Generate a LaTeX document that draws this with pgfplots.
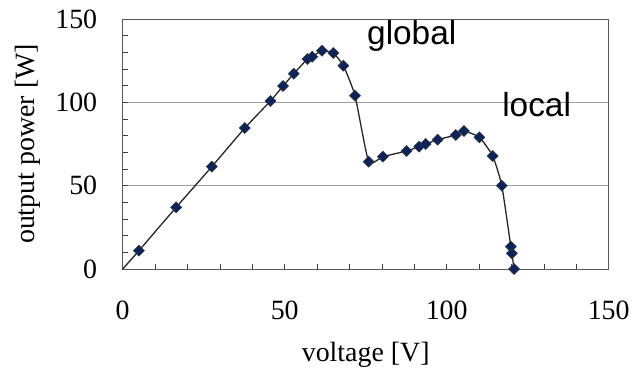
\documentclass[border=0pt]{standalone}
\usepackage{fontspec}
\setmainfont{Liberation Serif}
\newfontfamily\arial{Liberation Sans}
\usepackage{pgfplots}
\pgfplotsset{compat=1.18}
\definecolor{mk}{RGB}{12,36,92}
\pgfplotstableread{
x y
5.0 11.0
16.5 37.0
27.5 61.4
37.7 84.6
45.6 100.8
49.5 109.8
52.8 117.2
57.0 126.0
58.5 127.4
61.5 131.0
65.0 129.6
68.1 122.0
71.7 104.0
75.9 64.4
80.3 67.4
87.6 70.8
91.5 73.4
93.5 75.0
97.2 77.6
102.8 80.4
105.3 82.8
110.1 79.0
114.2 67.8
117.0 50.0
119.8 13.4
120.1 9.4
120.8 0
}\datatab
\begin{document}
\begin{tikzpicture}[x=1bp,y=1bp]
\path[use as bounding box] (0,0) rectangle (635,376);
\begin{axis}[
  at={(122.7bp,107bp)}, anchor=south west,
  scale only axis, width=486bp, height=250bp,
  xmin=0, xmax=150, ymin=0, ymax=150,
  xtick={0,50,100,150}, ytick={0,50,100,150},
  minor tick num=4,
  tick align=inside, xtick pos=left, ytick pos=left,
  major tick length=5bp, minor tick length=5bp,
  ymajorgrids, major grid style={gray!75, line width=0.8bp},
  axis line style={black!65, line width=0.9bp},
  tick style={black!75, line width=0.7bp},
  /pgf/number format/assume math mode=true,
  ticklabel style={font=\fontsize{28}{30}\selectfont},
  xticklabel style={yshift=-28bp},
  yticklabel style={xshift=-22bp},
  xlabel={voltage [V]}, ylabel={output power [W]},
  label style={font=\fontsize{28}{30}\selectfont},
  xlabel style={at={(axis description cs:0.5,-0.344)}, anchor=center},
  ylabel style={at={(axis description cs:-0.195,0.5)}, anchor=center},
  clip=false,
]
\addplot[black!85, line width=1.3bp, smooth, tension=0.3] table {
x y
0 0
5.0 11.0
16.5 37.0
27.5 61.4
37.7 84.6
45.6 100.8
49.5 109.8
52.8 117.2
57.0 126.0
58.5 127.4
61.5 131.0
65.0 129.6
68.1 122.0
71.7 104.0
75.9 64.4
80.3 67.4
87.6 70.8
91.5 73.4
93.5 75.0
97.2 77.6
102.8 80.4
105.3 82.8
110.1 79.0
114.2 67.8
117.0 50.0
119.8 13.4
120.1 9.4
120.8 0
};
\addplot[only marks, mark=square*, mark size=3.9bp, mark options={rotate=45, fill=mk, draw=black!80, line width=0.5bp}] table {\datatab};
\node[anchor=base west, inner sep=0, font=\arial\fontsize{33.5}{35}\selectfont] at (axis cs:75.4,134.4) {global};
\node[anchor=base west, inner sep=0, font=\arial\fontsize{33.5}{35}\selectfont] at (axis cs:117.1,91.2) {local};
\end{axis}
\end{tikzpicture}
\end{document}
